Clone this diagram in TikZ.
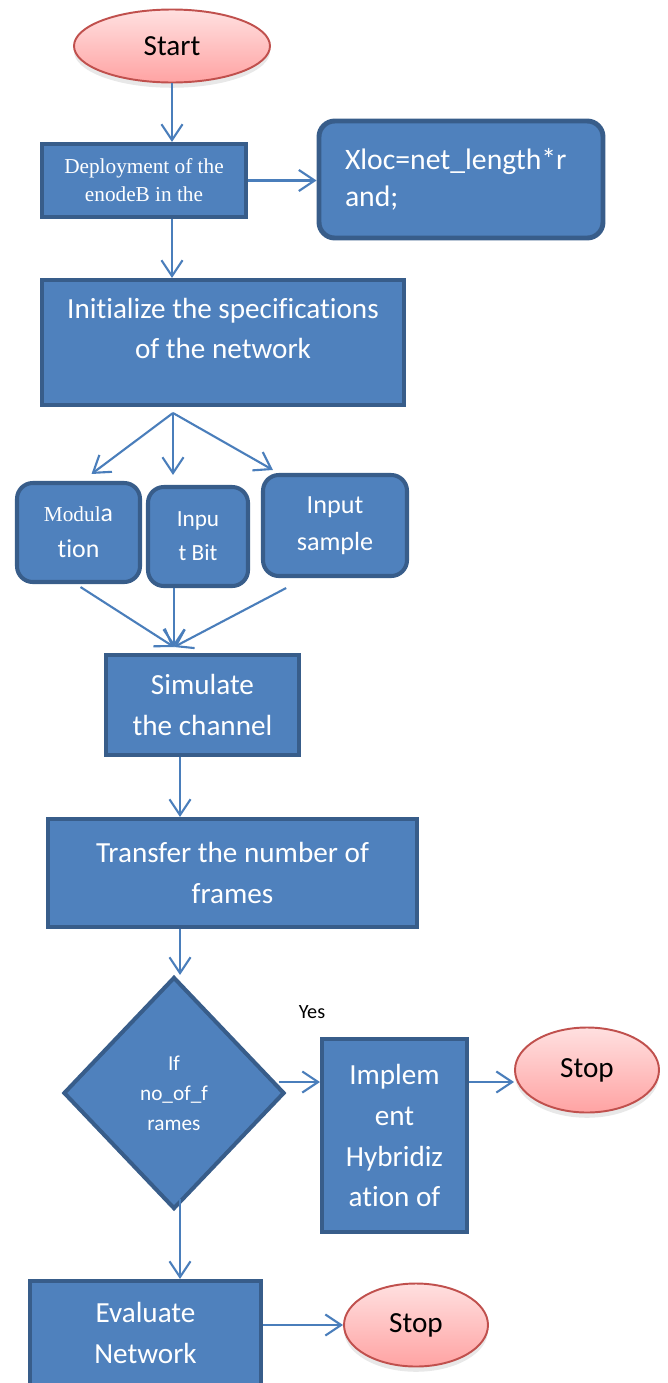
\documentclass[tikz,border=0pt]{standalone}
\usepackage{fontspec}
\setmainfont{Carlito}[Ligatures={NoCommon}]
\newfontfamily\timesfont{Liberation Serif}
\usetikzlibrary{shapes.geometric, arrows.meta, calc, shadows}
\definecolor{BoxFill}{HTML}{4F81BD}
\definecolor{BoxEdge}{HTML}{385D8A}
\definecolor{ArrowBlue}{HTML}{4A7EBB}
\definecolor{StopEdge}{HTML}{C0504D}
\definecolor{StopTop}{HTML}{FFE0E0}
\definecolor{StopBottom}{HTML}{FFA3A3}
\newlength\pxu
\setlength\pxu{0.02cm}

\begin{document}
\begin{tikzpicture}[x=0.02cm, y=-0.02cm,
    boxsize/.style 2 args={minimum width=#1\pxu, minimum height=#2\pxu},
    proc/.style={rectangle, draw=BoxEdge, line width=2.3pt, fill=BoxFill, text=white, align=center, inner sep=0pt, font=\fontsize{16.6}{23}\selectfont},
    roundproc/.style={proc, rounded corners=9pt},
    decision/.style={diamond, aspect=0.95, draw=BoxEdge, line width=2.3pt, fill=BoxFill, text=white, align=center, inner sep=0pt, font=\fontsize{12.1}{17}\selectfont},
    term/.style={ellipse, draw=StopEdge, line width=1.1pt, top color=StopTop, bottom color=StopBottom, inner sep=0pt, font=\fontsize{16.6}{20}\selectfont,
        drop shadow={opacity=0.18, shadow xshift=0pt, shadow yshift=-3pt}},
    arr/.style={draw=ArrowBlue, line width=1.2pt, -{Straight Barb[length=9pt, width=12pt]}}]
    \useasboundingbox (0,0) rectangle (668,1383);
    \clip (0,0) rectangle (668,1383);

    % Start and deployment
    \node[term, boxsize={196}{73}] (start) at (172,46) {Start};
    \node[proc, boxsize={204}{73}, font=\timesfont\fontsize{12.1}{15.9}\selectfont] (deploy) at (144,180.5) {Deployment of the\\enodeB in the};
    \node[roundproc, line width=2.8pt, boxsize={284}{117}, align=left, text width=232\pxu, font=\fontsize{16.9}{21}\selectfont] (xloc) at (461,179.5) {Xloc=net\_length*r\\and;};

    % Network specifications
    \node[proc, boxsize={362}{125}] (init) at (223,342.5) {Initialize the specifications\\of the network\\[-7pt]\mbox{}};

    % Inputs
    \node[roundproc, boxsize={123}{99}, font=\fontsize{14.7}{20.5}\selectfont] (mod) at (78.5,532.5) {{\timesfont\fontsize{12.1}{15}\selectfont Modul}a\\tion};
    \node[roundproc, boxsize={100}{99}, font=\fontsize{13.2}{19.3}\selectfont] (bit) at (198,536.5) {Inpu\\t Bit};
    \node[roundproc, boxsize={144}{101}, font=\fontsize{14.9}{21}\selectfont] (sample) at (335,525.5) {Input\\sample};

    % Channel and frames
    \node[proc, boxsize={193}{100}] (sim) at (202.5,705) {Simulate\\the channel};
    \node[proc, boxsize={369}{108}] (trans) at (232.5,873) {Transfer the number of\\frames};

    % Decision
    \node[decision, boxsize={221}{232}] (dec) at (174,1093) {If\\no\_of\_f\\rames};
    \node[font=\fontsize{11.5}{14}\selectfont] (yes) at (312,1012) {Yes};
    \node[proc, boxsize={145}{193}, font=\fontsize{16.6}{23.3}\selectfont] (impl) at (394.5,1135.5) {Implem\\ent\\Hybridiz\\ation of};
    \node[term, boxsize={144}{85}] (stop1) at (587,1070) {Stop};

    % Evaluation
    \node[proc, boxsize={231}{104}] (eval) at (145.5,1333) {Evaluate\\Network};
    \node[term, boxsize={144}{83}] (stop2) at (416,1325) {Stop};

    % Connectors
    \draw[arr] (start.south) -- (deploy.north -| start.south);
    \draw[arr] (deploy.east) -- (deploy.east -| xloc.west);
    \draw[arr] (deploy.south -| start.south) -- (init.north -| start.south);

    \coordinate (fork) at (173,413);
    \draw[arr] (fork) -- ($(mod.north)+(13,-7)$);
    \draw[arr] (fork) -- ($(bit.north -| fork)+(0,-10)$);
    \draw[arr] (fork) -- ($(sample.north west)+(12,-3)$);

    \coordinate (join) at (174,647);
    \draw[arr] ($(mod.south)+(2,3)$) -- (join);
    \draw[arr] (bit.south -| join) -- (join);
    \draw[arr] ($(sample.south west)!0.17!(sample.south east)+(0,10)$) -- (join);

    \coordinate (spine) at (180,0);
    \draw[arr] (sim.south -| spine) -- (trans.north -| spine);
    \draw[arr] (trans.south -| spine) -- (dec.north -| spine);
    \draw[arr] ($(dec.south -| spine)+(0,-12)$) -- (eval.north -| spine);

    \coordinate (yesrow) at (0,1082);
    \draw[arr] ($(dec.east |- yesrow)+(-8,0)$) -- (impl.west |- yesrow);
    \draw[arr] (impl.east |- yesrow) -- (stop1.west |- yesrow);
    \draw[arr] (eval.east |- stop2.west) -- (stop2.west);
\end{tikzpicture}
\end{document}
